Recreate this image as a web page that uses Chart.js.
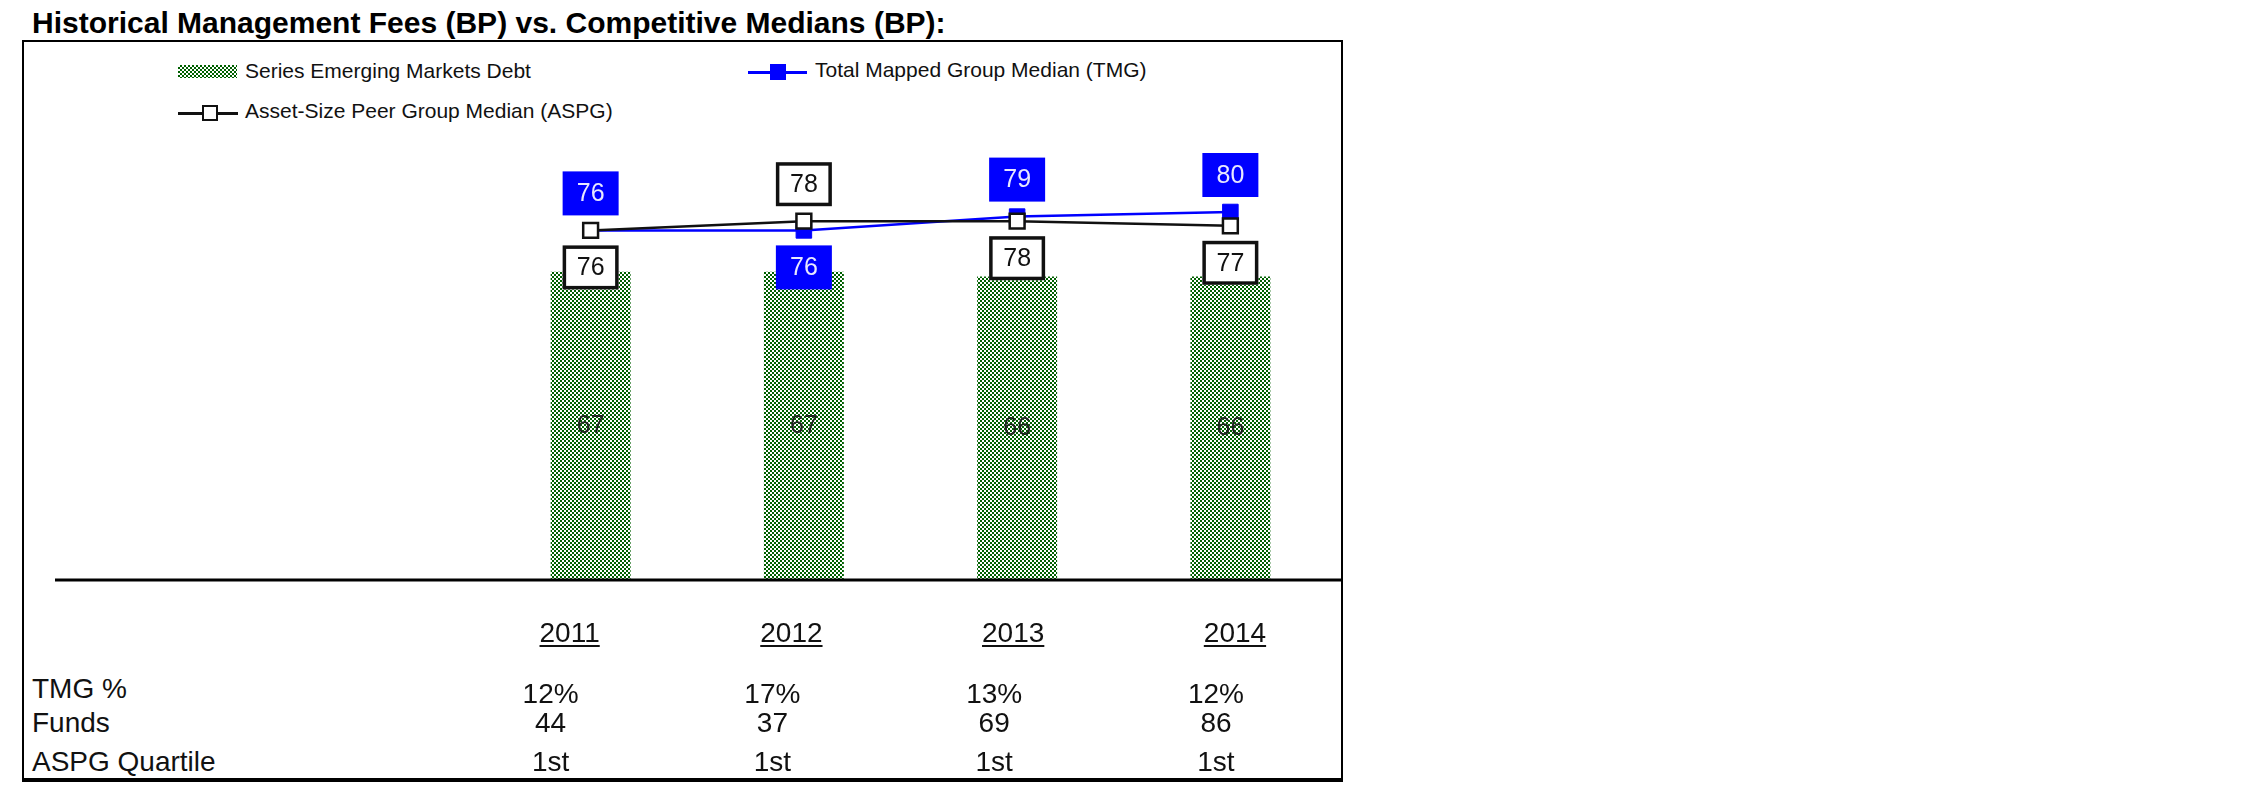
<!DOCTYPE html>
<html>
<head>
<meta charset="utf-8">
<script src="https://cdn.jsdelivr.net/npm/chart.js@4.4.1/dist/chart.umd.min.js"></script>
<style>
  html, body { margin: 0; padding: 0; background: #fff; }
  body { width: 2251px; height: 798px; position: relative; overflow: hidden;
         font-family: "Liberation Sans", Arial, sans-serif; color: #111; }
  .abs { position: absolute; line-height: 1; white-space: nowrap; }
  #frame { position: absolute; left: 22px; top: 40px; width: 1321px; height: 742px;
           box-sizing: border-box; border: 2px solid #000; border-bottom-width: 4px; }
  #title { left: 32px; top: 8px; font-size: 30px; font-weight: bold; color: #000; }
  .lg { font-size: 21px; }
  .pat { position: absolute; background: repeating-conic-gradient(#006000 0 25%, #fff 0 50%) 0 0 / 4px 4px; }
  .ln { position: absolute; height: 3px; }
  .mk { position: absolute; box-sizing: border-box; }
  .yr { font-size: 28px; text-decoration: underline; text-decoration-thickness: 2px; text-underline-offset: 3px; }
  .tb { font-size: 28px; }
  canvas { position: absolute; left: 0; top: 0; }
</style>
</head>
<body>
<div id="frame"></div>
<div id="title" class="abs">Historical Management Fees (BP) vs. Competitive Medians (BP):</div>

<!-- legend -->
<div class="pat" style="left:178px;top:65px;width:59px;height:13px"></div>
<div class="abs lg" style="left:245px;top:60px">Series Emerging Markets Debt</div>
<div class="ln" style="left:748px;top:71px;width:59px;background:#0000ff"></div>
<div class="mk" style="left:770px;top:64px;width:16px;height:16px;background:#0000ff"></div>
<div class="abs lg" style="left:815px;top:59px">Total Mapped Group Median (TMG)</div>
<div class="ln" style="left:178px;top:112px;width:60px;background:#111"></div>
<div class="mk" style="left:202px;top:105px;width:16px;height:16px;background:#fff;border:2.5px solid #111"></div>
<div class="abs lg" style="left:245px;top:100px">Asset-Size Peer Group Median (ASPG)</div>

<!-- table row labels -->
<div class="abs tb" style="left:32px;top:675px">TMG %</div>
<div class="abs tb" style="left:32px;top:709px">Funds</div>
<div class="abs tb" style="left:32px;top:748px">ASPG Quartile</div>

<canvas id="c" width="2251" height="798"></canvas>

<script>
const years = ['2011', '2012', '2013', '2014'];
const fundFees = [67, 67, 66, 66];
const tmgMedian = [76, 76, 79, 80];
const aspgMedian = [76, 78, 78, 77];
const tmgPct = ['12%', '17%', '13%', '12%'];
const funds = ['44', '37', '69', '86'];
const aspgQuartile = ['1st', '1st', '1st', '1st'];

Chart.defaults.font.family = '"Liberation Sans", Arial, sans-serif';

// dotted green fill for the bars
const tile = document.createElement('canvas');
tile.width = 4; tile.height = 4;
const tc = tile.getContext('2d');
tc.fillStyle = '#fff'; tc.fillRect(0, 0, 4, 4);
tc.fillStyle = '#006000';
tc.fillRect(0, 0, 2, 2); tc.fillRect(2, 2, 2, 2);
const dots = tc.createPattern(tile, 'repeat');

function box(ctx, x, y, text, blue) {
  const w = 56, h = 44;
  if (blue) {
    ctx.fillStyle = '#0000ff';
    ctx.fillRect(x - w / 2, y - h / 2, w, h);
    ctx.fillStyle = '#e8e8ff';
  } else {
    ctx.fillStyle = '#fff';
    ctx.fillRect(x - w / 2, y - h / 2, w, h);
    ctx.lineWidth = 3.5;
    ctx.strokeStyle = '#111';
    ctx.strokeRect(x - w / 2 + 1.75, y - h / 2 + 1.75, w - 3.5, h - 3.5);
    ctx.fillStyle = '#111';
  }
  ctx.fillText(text, x, y + 1);
}

const labels = {
  id: 'labels',
  afterDatasetsDraw(chart) {
    const ctx = chart.ctx;
    const area = chart.chartArea;
    ctx.save();
    // axis line
    ctx.strokeStyle = '#000';
    ctx.lineWidth = 3;
    ctx.beginPath();
    ctx.moveTo(55, area.bottom);
    ctx.lineTo(1341, area.bottom);
    ctx.stroke();

    ctx.textAlign = 'center';
    ctx.textBaseline = 'middle';
    ctx.font = '25px "Liberation Sans", Arial, sans-serif';
    ctx.fillStyle = '#222';
    chart.getDatasetMeta(0).data.forEach((bar, i) => {
      ctx.fillText(String(fundFees[i]), bar.x, (bar.y + bar.base) / 2);
    });

    ctx.font = '25px "Liberation Sans", Arial, sans-serif';
    const tmgPts = chart.getDatasetMeta(1).data;
    const aspgPts = chart.getDatasetMeta(2).data;
    years.forEach((y, i) => {
      const up = tmgMedian[i] >= aspgMedian[i];
      box(ctx, tmgPts[i].x, tmgPts[i].y + (up ? -37 : 37), String(tmgMedian[i]), true);
      box(ctx, aspgPts[i].x, aspgPts[i].y + (up ? 37 : -37), String(aspgMedian[i]), false);
    });
    ctx.restore();
  }
};

const chart = new Chart(document.getElementById('c'), {
  data: {
    labels: years,
    datasets: [
      {
        type: 'bar',
        label: 'Series Emerging Markets Debt',
        data: fundFees,
        backgroundColor: dots,
        borderWidth: 0,
        categoryPercentage: 1,
        barPercentage: 0.375,
        order: 3
      },
      {
        type: 'line',
        label: 'Total Mapped Group Median (TMG)',
        data: tmgMedian,
        borderColor: '#0000ff',
        borderWidth: 2.5,
        pointStyle: 'rect',
        pointRadius: 11,
        pointBackgroundColor: '#0000ff',
        pointBorderColor: '#0000ff',
        pointBorderWidth: 1,
        order: 2
      },
      {
        type: 'line',
        label: 'Asset-Size Peer Group Median (ASPG)',
        data: aspgMedian,
        borderColor: '#111',
        borderWidth: 2.5,
        pointStyle: 'rect',
        pointRadius: 10.5,
        pointBackgroundColor: '#fff',
        pointBorderColor: '#111',
        pointBorderWidth: 2.5,
        order: 1
      }
    ]
  },
  options: {
    responsive: false,
    animation: false,
    layout: { padding: { left: 484, right: 914, top: 120, bottom: 218 } },
    plugins: { legend: { display: false }, tooltip: { enabled: false } },
    scales: {
      x: { display: false },
      y: { display: false, min: 0, max: 100 }
    }
  },
  plugins: [labels]
});

// year headers and table under the chart, placed from the x scale
const xs = chart.scales.x;
const x0 = xs.getPixelForValue(0);
function colX(i, shift) { return x0 + (xs.getPixelForValue(i) - x0) * 1.04 + shift; }
function put(text, cls, x, top) {
  const d = document.createElement('div');
  d.className = 'abs ' + cls;
  d.textContent = text;
  d.style.left = x + 'px';
  d.style.top = top + 'px';
  d.style.transform = 'translateX(-50%)';
  document.body.appendChild(d);
}
years.forEach((y, i) => {
  put(y, 'yr', colX(i, -21), 619);
  put(tmgPct[i], 'tb', colX(i, -40), 680);
  put(funds[i], 'tb', colX(i, -40), 709);
  put(aspgQuartile[i], 'tb', colX(i, -40), 748);
});
</script>
</body>
</html>
